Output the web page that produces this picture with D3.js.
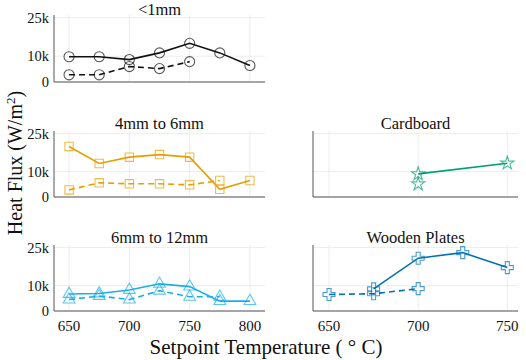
<!DOCTYPE html>
<html>
<head>
<meta charset="utf-8">
<title></title>
<script src="https://d3js.org/d3.v7.min.js"></script>
<style type="text/css">
	body { margin: 0; background: #fff; }
	text { font-family: "Liberation Serif", "DejaVu Serif", serif; fill: #111; }
	.grid line { stroke: #e8e8e8; stroke-width: 0.8; }
	.frame { stroke: #555; stroke-width: 1; }
</style>
</head>
<body>
<script type="text/javascript">

var width = 526,
	height = 360;

// setpoint temperatures (C)
var temps = [650, 675, 700, 725, 750, 775, 800];
var yTicks = [0, 10000, 25000];
var yTickLabels = ["0", "10k", "25k"];
var leftXTicks = [650, 700, 750, 800];
var rightXTicks = [650, 700, 750];

// heat flux (W/m2), solid and dashed series per sample
var lt1Solid = [9800, 9800, 8700, 11300, 15000, 11300, 6400];
var lt1Dashed = [2800, 2800, 6000, 5200, 7900];
var mm4Solid = [19900, 13200, 15700, 16700, 15700, 3000, 6500];
var mm4Dashed = [2800, 5600, 5200, 5200, 4800, 6500];
var mm6Solid = [6700, 6900, 8300, 10700, 9600, 3900, 3900];
var mm6Dashed = [4500, 5900, 4500, 8000, 5600, 5600];
var cardTemps = [700, 750];
var cardSolid = [9100, 13300];
var cardDashedTemps = [700];
var cardDashed = [5100];
var woodSolidTemps = [675, 700, 725, 750];
var woodSolid = [8700, 20800, 23000, 17100];
var woodDashedTemps = [650, 675, 700];
var woodDashed = [6500, 6800, 8800];

function pts(xs, ys) {
	return ys.map(function(v, i) { return {x: xs[i], y: v}; });
}

var panels = [
	{title: "<1mm", col: 0, row: 0, color: "#111111", sym: d3.symbolCircle, size: 80,
	 solid: pts(temps, lt1Solid), dashed: pts(temps, lt1Dashed)},
	{title: "4mm to 6mm", col: 0, row: 1, color: "#e69f00", sym: d3.symbolSquare, size: 70,
	 solid: pts(temps, mm4Solid), dashed: pts(temps, mm4Dashed)},
	{title: "6mm to 12mm", col: 0, row: 2, color: "#1aaee8", sym: d3.symbolTriangle, size: 60,
	 solid: pts(temps, mm6Solid), dashed: pts(temps, mm6Dashed), xlabels: true},
	{title: "Cardboard", col: 1, row: 1, color: "#009e73", sym: d3.symbolStar, size: 55,
	 solid: pts(cardTemps, cardSolid), dashed: pts(cardDashedTemps, cardDashed)},
	{title: "Wooden Plates", col: 1, row: 2, color: "#0072b2", sym: d3.symbolCross, size: 80,
	 solid: pts(woodSolidTemps, woodSolid), dashed: pts(woodDashedTemps, woodDashed), xlabels: true}
];

var cols = [
	{x0: 54, x1: 265, domain: [637.5, 812.5], ticks: leftXTicks, ylabels: true},
	{x0: 313, x1: 518, domain: [641, 756], ticks: rightXTicks, ylabels: false}
];
var rows = [{top: 15, bottom: 82, title: 9}, {top: 131, bottom: 197, title: 123},
	{top: 245, bottom: 311, title: 237}];

var svg = d3.select('body').append('svg')
	.attr('width', width)
	.attr('height', height);

panels.forEach(function(p) {
	var c = cols[p.col], r = rows[p.row];
	var x = d3.scaleLinear().domain(c.domain).range([c.x0, c.x1]);
	var y = d3.scaleLinear().domain([0, 26000]).range([r.bottom, r.top]);
	var g = svg.append('g');

	// grid
	var grid = g.append('g').attr('class', 'grid');
	grid.selectAll('.vx').data(c.ticks).enter().append('line')
		.attr('x1', function(d) { return x(d); })
		.attr('x2', function(d) { return x(d); })
		.attr('y1', r.top).attr('y2', r.bottom);
	grid.selectAll('.hy').data(yTicks).enter().append('line')
		.attr('x1', c.x0).attr('x2', c.x1)
		.attr('y1', function(d) { return y(d); })
		.attr('y2', function(d) { return y(d); });

	// frame (left + bottom)
	g.append('path').attr('class', 'frame').attr('fill', 'none')
		.attr('d', 'M' + c.x0 + ',' + r.top + 'V' + r.bottom + 'H' + c.x1);

	if (c.ylabels) {
		g.selectAll('.yl').data(yTicks).enter().append('text')
			.attr('x', c.x0 - 5)
			.attr('y', function(d) { return y(d); })
			.attr('dy', '0.35em')
			.attr('text-anchor', 'end')
			.style('font-size', '14.5px')
			.text(function(d, i) { return yTickLabels[i]; });
	}
	if (p.xlabels) {
		g.selectAll('.xl').data(c.ticks).enter().append('text')
			.attr('x', function(d) { return x(d); })
			.attr('y', r.bottom + 15)
			.attr('dy', '0.35em')
			.attr('text-anchor', 'middle')
			.style('font-size', '15px')
			.text(function(d) { return d; });
	}

	g.append('text')
		.attr('x', (c.x0 + c.x1) / 2)
		.attr('y', r.title)
		.attr('dy', '0.35em')
		.attr('text-anchor', 'middle')
		.style('font-size', '16.5px')
		.text(p.title);

	var line = d3.line().x(function(d) { return x(d.x); }).y(function(d) { return y(d.y); });

	g.append('path').datum(p.solid)
		.attr('fill', 'none').attr('stroke', p.color).attr('stroke-width', 1.6)
		.attr('d', line);
	g.append('path').datum(p.dashed)
		.attr('fill', 'none').attr('stroke', p.color).attr('stroke-width', 1.6)
		.attr('stroke-dasharray', '6,4')
		.attr('d', line);

	var sym = d3.symbol().type(p.sym).size(p.size);
	g.selectAll('.mk').data(p.solid.concat(p.dashed)).enter().append('path')
		.attr('transform', function(d) { return 'translate(' + x(d.x) + ',' + y(d.y) + ')'; })
		.attr('d', sym)
		.attr('fill', 'none')
		.attr('stroke', p.color)
		.attr('stroke-opacity', 0.7)
		.attr('stroke-width', 1.1);
});

svg.append('text')
	.attr('transform', 'translate(15,' + 163 + ') rotate(-90)')
	.attr('dy', '0.35em')
	.attr('text-anchor', 'middle')
	.style('font-size', '20px')
	.html('Heat Flux (W/m<tspan baseline-shift="super" font-size="13px">2</tspan>)');

svg.append('text')
	.attr('x', 266)
	.attr('y', 347)
	.attr('dy', '0.35em')
	.attr('text-anchor', 'middle')
	.style('font-size', '21px')
	.text('Setpoint Temperature ( \u00b0 C)');

</script>
</body>
</html>
